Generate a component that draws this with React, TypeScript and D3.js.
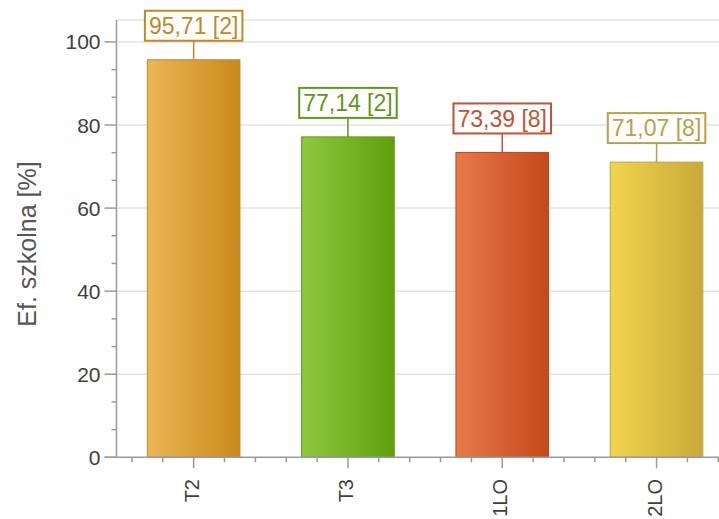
import React from "react";
import * as d3 from "d3";

const categories = ["T2", "T3", "1LO", "2LO"];
const values = [95.71, 77.14, 73.39, 71.07];
const counts = [2, 2, 8, 8];
const yTicks = [0, 20, 40, 60, 80, 100];
const yTitle = "Ef. szkolna [%]";

const barLeft = ["#ebb655", "#8fc83f", "#e87a4b", "#f2d44c"];
const barRight = ["#c98a1c", "#5fa00c", "#c4481a", "#c9a93a"];
const barStroke = ["#bf8a2a", "#5a9a18", "#bb4a20", "#c2a545"];
const labelColor = ["#bd8a2a", "#5a9a18", "#bf5430", "#b9a04a"];

const W = 719;
const H = 519;
const FONT = "'Liberation Sans', Arial, sans-serif";

function measure(text: string, size: number): number {
  if (typeof document === "undefined") return text.length * size * 0.55;
  const c = document.createElement("canvas");
  const ctx = c.getContext("2d");
  if (!ctx) return text.length * size * 0.55;
  ctx.font = `${size}px ${FONT}`;
  return ctx.measureText(text).width;
}

export default function App() {
  const yMax = values[0] * 1.1;
  const y = d3.scaleLinear().domain([0, yMax]).range([457.3, 20]);
  const x = d3.scaleLinear().domain([0.5, 4.5]).range([116.5, 116.5 + 4 * 154.3]);
  const barW = x(1.6) - x(1);

  const minorY = d3.range(0, yMax, 20 / 3).filter((v) => Math.abs(v / 20 - Math.round(v / 20)) > 0.01);
  const xTicks = d3.range(0.6, 4.5, 0.2);

  const labelSize = 23;

  return (
    <svg width={W} height={H} style={{ position: "absolute", left: 0, top: 0, display: "block" }} fontFamily={FONT}>
      <defs>
        {categories.map((c, i) => (
          <linearGradient key={c} id={`g${i}`} x1="0" x2="1" y1="0" y2="0">
            <stop offset="0%" stopColor={barLeft[i]} />
            <stop offset="100%" stopColor={barRight[i]} />
          </linearGradient>
        ))}
      </defs>
      <rect x={0} y={0} width={W} height={H} fill="#fff" />
      {/* grid lines */}
      {[...yTicks.filter((t) => t > 0), yMax].map((t, i) => (
        <line key={i} x1={x(0.5)} x2={x(4.5)} y1={y(t)} y2={y(t)} stroke="#e3e3e3" strokeWidth={1.5} />
      ))}
      {/* bars */}
      {values.map((v, i) => (
        <rect
          key={i}
          x={x(i + 1) - barW / 2}
          y={y(v)}
          width={barW}
          height={y(0) - y(v)}
          fill={`url(#g${i})`}
          stroke={barStroke[i]}
          strokeWidth={1}
        />
      ))}
      {/* y axis */}
      <line x1={x(0.5)} x2={x(0.5)} y1={y(yMax)} y2={y(0)} stroke="#9a9a9a" strokeWidth={1.5} />
      {yTicks.map((t) => (
        <g key={t}>
          <line x1={x(0.5) - 12} x2={x(0.5)} y1={y(t)} y2={y(t)} stroke="#9a9a9a" strokeWidth={1.5} />
          <text x={x(0.5) - 16} y={y(t)} dy="0.36em" textAnchor="end" fontSize={21} fill="#404040">
            {t}
          </text>
        </g>
      ))}
      {minorY.map((t, i) => (
        <line key={i} x1={x(0.5) - 5} x2={x(0.5)} y1={y(t)} y2={y(t)} stroke="#9a9a9a" strokeWidth={1.5} />
      ))}
      <text
        transform={`translate(36,244) rotate(-90)`}
        textAnchor="middle"
        fontSize={25}
        fill="#555"
      >
        {yTitle}
      </text>
      {/* x axis */}
      <line x1={x(0.5) - 12} x2={x(4.5)} y1={y(0)} y2={y(0)} stroke="#9a9a9a" strokeWidth={1.5} />
      {xTicks.map((t, i) => {
        const major = Math.abs(t - Math.round(t)) < 0.01;
        return (
          <line key={i} x1={x(t)} x2={x(t)} y1={y(0)} y2={y(0) + (major ? 11 : 5)} stroke="#9a9a9a" strokeWidth={1.5} />
        );
      })}
      {categories.map((c, i) => (
        <text
          key={c}
          transform={`translate(${x(i + 1) + 5},479) rotate(-90)`}
          textAnchor="end"
          fontSize={20}
          fill="#404040"
        >
          {c}
        </text>
      ))}
      {/* value labels */}
      {values.map((v, i) => {
        const txt = `${v.toFixed(2).replace(".", ",")} [${counts[i]}]`;
        const tw = measure(txt, labelSize);
        const bw = tw + 8;
        const bh = 30;
        const cx = x(i + 1);
        const top = y(v);
        const boxBottom = top - 19;
        return (
          <g key={i}>
            <line x1={cx} x2={cx} y1={boxBottom} y2={top} stroke={labelColor[i]} strokeWidth={1.5} />
            <rect x={cx - bw / 2} y={boxBottom - bh} width={bw} height={bh} fill="#fff" stroke={labelColor[i]} strokeWidth={2} />
            <text x={cx} y={boxBottom - bh / 2} dy="0.36em" textAnchor="middle" fontSize={labelSize} fill={labelColor[i]}>
              {txt}
            </text>
          </g>
        );
      })}
    </svg>
  );
}
